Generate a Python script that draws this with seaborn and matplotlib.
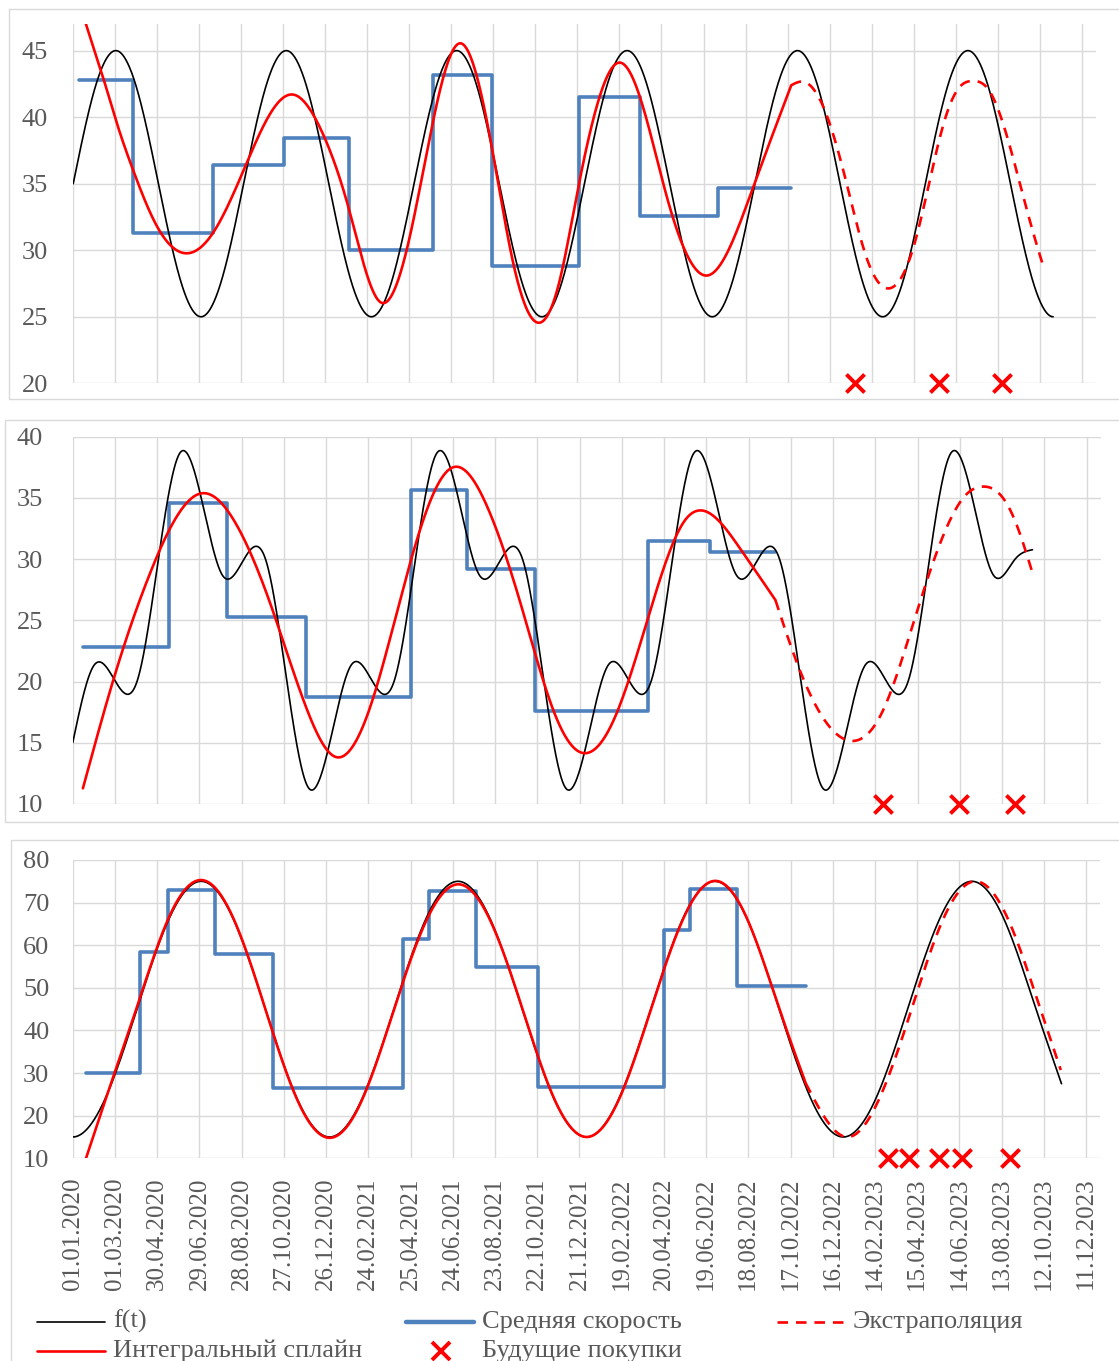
import numpy as np
import matplotlib
matplotlib.use("Agg")
import matplotlib.pyplot as plt
import seaborn as sns
from matplotlib.lines import Line2D
from matplotlib.patches import Rectangle

sns.set_theme(style="white")
plt.rcParams["font.family"] = ["Liberation Serif", "DejaVu Serif"]

# ---------------------------------------------------------------- data
# x values are days counted from 01.01.2020
x_ticks_days = list(range(0, 1441, 60))
x_labels = ["01.01.2020", "01.03.2020", "30.04.2020", "29.06.2020", "28.08.2020",
            "27.10.2020", "26.12.2020", "24.02.2021", "25.04.2021", "24.06.2021",
            "23.08.2021", "22.10.2021", "21.12.2021", "19.02.2022", "20.04.2022",
            "19.06.2022", "18.08.2022", "17.10.2022", "16.12.2022", "14.02.2023",
            "15.04.2023", "14.06.2023", "13.08.2023", "12.10.2023", "11.12.2023"]

# --- chart 1
f1_days = [0.0, 30.4, 60.8, 91.3, 121.7, 152.1, 182.5, 212.9, 243.3, 273.8, 304.2, 334.6,
           365.0, 395.4, 425.8, 456.3, 486.7, 517.1, 547.5, 577.9, 608.3, 638.8, 669.2,
           699.6, 730.0, 760.4, 790.8, 821.3, 851.7, 882.1, 912.5, 942.9, 973.3, 1003.8,
           1034.2, 1064.6, 1095.0, 1125.4, 1155.8, 1186.3, 1216.7, 1247.1, 1277.5, 1307.9,
           1338.3, 1368.8, 1399.2]
f1_vals = [35, 42.07, 45, 42.07, 35, 27.93, 25, 27.93,
           35, 42.07, 45, 42.07, 35, 27.93, 25, 27.93,
           35, 42.07, 45, 42.07, 35, 27.93, 25, 27.93,
           35, 42.07, 45, 42.07, 35, 27.93, 25, 27.93,
           35, 42.07, 45, 42.07, 35, 27.93, 25, 27.93,
           35, 42.07, 45, 42.07, 35, 27.93, 25]
avg1_edges = [8.7, 85.7, 199.9, 300.4, 393.1, 513.9, 598.0, 722.9, 809.7, 920.3, 1025.3]
avg1_vals = [42.77, 31.3, 36.4, 38.46, 30.0, 43.2, 28.8, 41.5, 32.6, 34.7]
spl1_days = [8.7, 17.8, 40.8, 63.8, 85.7, 119.6, 163.2, 199.6, 247.3, 282.9, 313.6, 354.3,
             392.6, 438.5, 481.8, 512.3, 552.2, 594.0, 629.3, 665.4, 695.0, 717.8, 745.9,
             780.6, 812.0, 847.7, 905.5, 970.3, 1025.3]
spl1_vals = [48.6, 47.06, 43.3, 39.3, 36.0, 31.8, 29.77, 31.3, 36.5, 40.4, 41.7, 39.0,
             33.3, 26.1, 31.3, 39.3, 45.55, 38.8, 28.8, 24.55, 27.8, 33.8, 40.5,
             44.1, 41.05, 34.0, 28.1, 34.65, 42.4]
ext1_days = [1025.3, 1042.0, 1072.5, 1103.1, 1133.7, 1164.3, 1200.0, 1222.0, 1245.9,
             1266.3, 1284.2, 1307.2, 1327.6, 1347.9, 1368.3, 1385.3]
ext1_vals = [42.4, 42.67, 40.6, 35.28, 29.3, 27.13, 30.26, 35.0, 40.04,
             42.3, 42.72, 42.05, 39.54, 35.78, 31.77, 28.76]
buy1_days = [1117, 1236, 1326]

# --- chart 2
f2_days = f1_days[:45] + [1363.0]
f2_vals = [15.0, 21.34, 20.0, 20.0, 30.0, 38.66, 35.0, 28.66, 30.0, 30.0, 20.0, 11.34,
           15.0, 21.34, 20.0, 20.0, 30.0, 38.66, 35.0, 28.66, 30.0, 30.0, 20.0, 11.34,
           15.0, 21.34, 20.0, 20.0, 30.0, 38.66, 35.0, 28.66, 30.0, 30.0, 20.0, 11.34,
           15.0, 21.34, 20.0, 20.0, 30.0, 38.66, 35.0, 28.66, 30.0, 30.77]
avg2_edges = [14.5, 136.6, 219.3, 331.3, 481.0, 560.1, 656.5, 816.3, 905.0, 997.9]
avg2_vals = [22.8, 34.55, 25.25, 18.7, 35.65, 29.2, 17.6, 31.5, 30.6]
spl2_days = [14.5, 59.1, 109.8, 182.4, 231.5, 282.2, 333.0, 372.6, 419.3, 470.0, 520.7,
             540.0, 586.6, 637.4, 688.1, 722.6, 768.3, 819.0, 869.7, 895.2, 945.9, 997.9]
spl2_vals = [11.28, 20.4, 28.84, 35.37, 32.92, 26.11, 17.67, 13.86, 17.4, 27.75, 36.32,
             37.5, 34.55, 26.11, 16.86, 14.19, 16.86, 25.57, 33.19, 33.96, 31.02, 26.66]
ext2_days = [997.9, 1027.0, 1067.6, 1103.1, 1148.7, 1189.3, 1230.0, 1270.5, 1290.8,
             1326.3, 1341.5, 1361.8]
ext2_vals = [26.66, 21.76, 16.86, 15.17, 17.4, 23.94, 31.02, 35.37, 35.92,
             34.55, 32.65, 29.1]
buy2_days = [1150, 1258, 1338]

# --- chart 3
f3_days = [0.0, 45.6, 91.3, 136.9, 182.5, 228.1, 273.8, 319.4, 365.0, 410.6, 456.3, 501.9,
           547.5, 593.1, 638.8, 684.4, 730.0, 775.6, 821.3, 866.9, 912.5, 958.1, 1003.8,
           1049.4, 1095.0, 1140.6, 1186.3, 1231.9, 1277.5, 1323.1, 1368.8, 1405.0]
f3_vals = [15, 23.79, 45, 66.21, 75, 66.21, 45, 23.79,
           15, 23.79, 45, 66.21, 75, 66.21, 45, 23.79,
           15, 23.79, 45, 66.21, 75, 66.21, 45, 23.79,
           15, 23.79, 45, 66.21, 75, 66.21, 45, 27.5]
avg3_edges = [18.5, 95.6, 135.3, 202.2, 284.9, 468.7, 505.8, 572.7, 660.5, 840.7, 876.7,
              943.7, 1041.6]
avg3_vals = [30.1, 58.35, 72.96, 57.95, 26.4, 61.5, 72.7, 55.0, 26.8, 63.6, 73.3, 50.5]
spl3_days = [18.5, 52.0, 91.3, 136.9, 182.5, 228.1, 273.8, 319.4, 365.0, 410.6, 456.3,
             501.9, 547.5, 593.1, 638.8, 684.4, 730.0, 775.6, 821.3, 866.9, 912.5, 958.1,
             1003.8, 1041.6]
spl3_vals = [9.8, 26.4, 45.5, 66.6, 75.3, 66.4, 45.0, 23.6, 14.8, 23.5, 44.8,
             65.6, 74.3, 65.9, 45.2, 23.9, 15.0, 23.6, 44.8, 66.0, 75.1, 66.3,
             45.2, 27.6]
ext3_days = [1041.6, 1099.0, 1145.0, 1191.0, 1236.0, 1282.0, 1328.0, 1373.0, 1404.0]
ext3_vals = [27.6, 15.0, 23.6, 44.5, 65.8, 75.0, 66.5, 46.0, 30.7]
buy3_days = [1159, 1188, 1231, 1264, 1332]

# ---------------------------------------------------------------- styles
BLACK = "#000000"
BLUE = "#4F81BD"
RED = "#FF0000"
GRID = "#D9D9D9"
TEXT = "#595959"
LW_F, LW_AVG, LW_SPL = 1.2, 2.6, 1.9
DASH = (0, (4, 3))


def smooth(xk, yk, lslope=None, rslope=None, step=0.5):
    """Cubic spline through the knots (natural or clamped ends)."""
    x = np.asarray(xk, float)
    y = np.asarray(yk, float)
    n = len(x)
    h = np.diff(x)
    d = np.diff(y) / h
    A = np.zeros((n, n))
    r = np.zeros(n)
    for i in range(1, n - 1):
        A[i, i - 1] = h[i - 1]
        A[i, i] = 2 * (h[i - 1] + h[i])
        A[i, i + 1] = h[i]
        r[i] = 6 * (d[i] - d[i - 1])
    if lslope is None:
        A[0, 0] = 1
    else:
        A[0, 0], A[0, 1], r[0] = 2 * h[0], h[0], 6 * (d[0] - lslope)
    if rslope is None:
        A[-1, -1] = 1
    else:
        A[-1, -2], A[-1, -1], r[-1] = h[-1], 2 * h[-1], 6 * (rslope - d[-1])
    M = np.linalg.solve(A, r)
    t = np.linspace(x[0], x[-1], int((x[-1] - x[0]) / step) + 2)
    i = np.clip(np.searchsorted(x, t, side="right") - 1, 0, n - 2)
    hi = h[i]
    a = x[i + 1] - t
    b = t - x[i]
    s = (M[i] * a ** 3 / (6 * hi) + M[i + 1] * b ** 3 / (6 * hi)
         + (y[i] / hi - M[i] * hi / 6) * a + (y[i + 1] / hi - M[i + 1] * hi / 6) * b)
    return t, s


W, H = 1119, 1361
fig = plt.figure(figsize=(W / 100, H / 100), dpi=100)


def px_axes(left, right, top, bottom):
    return fig.add_axes([left / W, 1 - bottom / H, (right - left) / W, (bottom - top) / H])


def frame(x0, y0, x1, y1):
    fig.add_artist(Rectangle((x0 / W, 1 - y1 / H), (x1 - x0) / W, (y1 - y0) / H,
                             transform=fig.transFigure, fill=False, ec=GRID, lw=1.0))


def draw_panel(ax, f_days, f_vals, f_slopes, avg_edges, avg_vals, spl_days, spl_vals,
               ext_days, ext_vals, buy_days, ylim, yticks, ypad, show_x):
    ax.set_xlim(0, 1460)
    ax.set_ylim(*ylim)
    ax.set_xticks(x_ticks_days)
    ax.set_yticks(yticks)
    ax.grid(True, color=GRID, lw=1.0)
    ax.set_axisbelow(True)
    for sp in ax.spines.values():
        sp.set_visible(False)
    ax.set_facecolor("none")

    sns.lineplot(x=avg_edges, y=list(avg_vals) + [avg_vals[-1]], ax=ax, color=BLUE,
                 lw=LW_AVG, drawstyle="steps-post", estimator=None, sort=False,
                 legend=False, zorder=2)
    t, s = smooth(f_days, f_vals, *f_slopes)
    sns.lineplot(x=t, y=s, ax=ax, color=BLACK, lw=LW_F, estimator=None, sort=False,
                 legend=False, zorder=3)
    t, s = smooth(spl_days, spl_vals)
    sns.lineplot(x=t, y=s, ax=ax, color=RED, lw=LW_SPL, estimator=None, sort=False,
                 legend=False, zorder=4)
    t, s = smooth(ext_days, ext_vals)
    sns.lineplot(x=t, y=s, ax=ax, color=RED, lw=LW_SPL, linestyle=DASH, estimator=None,
                 sort=False, legend=False, zorder=4)
    sns.scatterplot(x=buy_days, y=[ylim[0]] * len(buy_days), ax=ax, marker="x", s=170,
                    color=RED, linewidth=2.8, clip_on=False, zorder=6, legend=False)

    ax.set_xlabel("")
    ax.set_ylabel("")
    ax.tick_params(axis="both", length=0)
    ax.tick_params(axis="y", pad=ypad, labelsize=19, labelcolor=TEXT)
    ax.set_yticklabels([str(v) for v in yticks])
    if show_x:
        ax.set_xticklabels(x_labels, rotation=90, fontsize=18, color=TEXT)
        ax.tick_params(axis="x", pad=14)
    else:
        ax.tick_params(axis="x", labelbottom=False)


frame(9.3, 9.3, 1130, 399.3)
frame(5.0, 419.5, 1130, 822.3)
frame(11.0, 839.5, 1130, 1375)

ax1 = px_axes(73.2, 1095.7, 24.0, 383.3)
draw_panel(ax1, f1_days, f1_vals, (None, 0.0), avg1_edges, avg1_vals, spl1_days, spl1_vals,
           ext1_days, ext1_vals, buy1_days, (20, 47), [20, 25, 30, 35, 40, 45], 18, False)

ax2 = px_axes(72.7, 1100.8, 436.7, 804.0)
draw_panel(ax2, f2_days, f2_vals, (None, None), avg2_edges, avg2_vals, spl2_days, spl2_vals,
           ext2_days, ext2_vals, buy2_days, (10, 40), [10, 15, 20, 25, 30, 35, 40], 21.4, False)

ax3 = px_axes(72.7, 1100.2, 860.0, 1158.3)
draw_panel(ax3, f3_days, f3_vals, (0.0, None), avg3_edges, avg3_vals, spl3_days, spl3_vals,
           ext3_days, ext3_vals, buy3_days, (10, 80), [10, 20, 30, 40, 50, 60, 70, 80], 16.8,
           True)

# ---------------------------------------------------------------- legend
def fx(x):
    return x / W


def fy(y):
    return 1 - y / H


legend_items = [
    ("line", BLACK, LW_F, "-", 37, 1321.7, "f(t)"),
    ("line", BLUE, LW_AVG + 0.6, "-", 406, 1321.7, "Средняя скорость"),
    ("line", RED, LW_SPL, DASH, 777, 1321.7, "Экстраполяция"),
    ("line", RED, LW_SPL, "-", 37, 1350.7, "Интегральный сплайн"),
    ("mark", RED, 2.8, "", 406, 1350.7, "Будущие покупки"),
]
for kind, col, lw, ls, x0, y0, label in legend_items:
    if kind == "line":
        fig.add_artist(Line2D([fx(x0), fx(x0 + 68)], [fy(y0), fy(y0)], color=col, lw=lw,
                              linestyle=ls, transform=fig.transFigure))
    else:
        fig.add_artist(Line2D([fx(x0 + 35)], [fy(y0)], color=col, marker="x", ms=13,
                              mew=lw, linestyle="none", transform=fig.transFigure))
    fig.text(fx(x0 + 76), fy(y0), label, fontsize=19, color=TEXT, va="center", ha="left")

fig.savefig("out.png", dpi=100, facecolor="white")
